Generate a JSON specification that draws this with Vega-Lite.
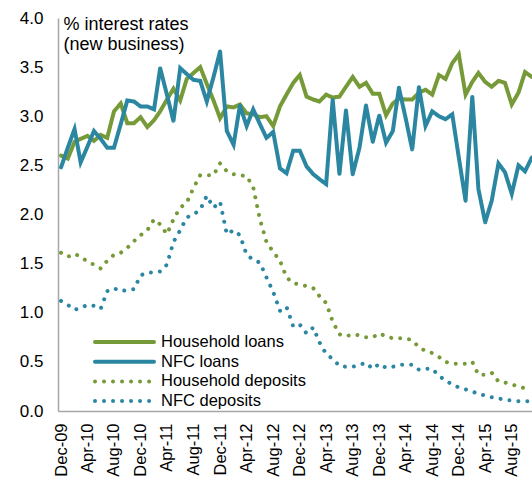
{
  "$schema": "https://vega.github.io/schema/vega-lite/v6.json",
  "width": 474,
  "height": 393,
  "autosize": {"type": "none"},
  "padding": {"left": 58, "top": 18, "right": 0, "bottom": 73},
  "background": "white",
  "config": {"font": "Liberation Sans", "view": {"stroke": null}},
  "data": {"values": [
    {"d": "2009-12-01", "Household loans": 2.60, "NFC loans": 2.48, "Household deposits": 1.61, "NFC deposits": 1.12},
    {"d": "2010-01-01", "Household loans": 2.57, "NFC loans": 2.68, "Household deposits": 1.57, "NFC deposits": 1.08},
    {"d": "2010-02-01", "Household loans": 2.74, "NFC loans": 2.87, "Household deposits": 1.60, "NFC deposits": 1.03},
    {"d": "2010-03-01", "Household loans": 2.77, "NFC loans": 2.53, "Household deposits": 1.57, "NFC deposits": 1.05},
    {"d": "2010-04-01", "Household loans": 2.80, "NFC loans": 2.69, "Household deposits": 1.52, "NFC deposits": 1.08},
    {"d": "2010-05-01", "Household loans": 2.75, "NFC loans": 2.85, "Household deposits": 1.49, "NFC deposits": 1.07},
    {"d": "2010-06-01", "Household loans": 2.81, "NFC loans": 2.77, "Household deposits": 1.45, "NFC deposits": 1.04},
    {"d": "2010-07-01", "Household loans": 2.78, "NFC loans": 2.68, "Household deposits": 1.53, "NFC deposits": 1.22},
    {"d": "2010-08-01", "Household loans": 3.05, "NFC loans": 2.68, "Household deposits": 1.59, "NFC deposits": 1.25},
    {"d": "2010-09-01", "Household loans": 3.13, "NFC loans": 2.92, "Household deposits": 1.61, "NFC deposits": 1.22},
    {"d": "2010-10-01", "Household loans": 2.93, "NFC loans": 3.16, "Household deposits": 1.66, "NFC deposits": 1.23},
    {"d": "2010-11-01", "Household loans": 2.93, "NFC loans": 3.15, "Household deposits": 1.73, "NFC deposits": 1.24},
    {"d": "2010-12-01", "Household loans": 2.99, "NFC loans": 3.10, "Household deposits": 1.79, "NFC deposits": 1.38},
    {"d": "2011-01-01", "Household loans": 2.89, "NFC loans": 3.10, "Household deposits": 1.84, "NFC deposits": 1.41},
    {"d": "2011-02-01", "Household loans": 2.96, "NFC loans": 3.07, "Household deposits": 1.95, "NFC deposits": 1.41},
    {"d": "2011-03-01", "Household loans": 3.05, "NFC loans": 3.49, "Household deposits": 1.90, "NFC deposits": 1.42},
    {"d": "2011-04-01", "Household loans": 3.17, "NFC loans": 3.22, "Household deposits": 1.80, "NFC deposits": 1.49},
    {"d": "2011-05-01", "Household loans": 3.28, "NFC loans": 2.95, "Household deposits": 1.95, "NFC deposits": 1.72},
    {"d": "2011-06-01", "Household loans": 3.16, "NFC loans": 3.49, "Household deposits": 2.07, "NFC deposits": 1.84},
    {"d": "2011-07-01", "Household loans": 3.38, "NFC loans": 3.43, "Household deposits": 2.12, "NFC deposits": 1.97},
    {"d": "2011-08-01", "Household loans": 3.44, "NFC loans": 3.37, "Household deposits": 2.27, "NFC deposits": 2.00},
    {"d": "2011-09-01", "Household loans": 3.50, "NFC loans": 3.36, "Household deposits": 2.40, "NFC deposits": 2.05},
    {"d": "2011-10-01", "Household loans": 3.33, "NFC loans": 3.15, "Household deposits": 2.40, "NFC deposits": 2.19},
    {"d": "2011-11-01", "Household loans": 3.16, "NFC loans": 3.40, "Household deposits": 2.40, "NFC deposits": 2.07},
    {"d": "2011-12-01", "Household loans": 2.98, "NFC loans": 3.66, "Household deposits": 2.52, "NFC deposits": 2.13},
    {"d": "2012-01-01", "Household loans": 3.10, "NFC loans": 2.85, "Household deposits": 2.44, "NFC deposits": 1.80},
    {"d": "2012-02-01", "Household loans": 3.09, "NFC loans": 2.71, "Household deposits": 2.41, "NFC deposits": 1.84},
    {"d": "2012-03-01", "Household loans": 3.12, "NFC loans": 3.11, "Household deposits": 2.40, "NFC deposits": 1.79},
    {"d": "2012-04-01", "Household loans": 3.03, "NFC loans": 2.90, "Household deposits": 2.39, "NFC deposits": 1.59},
    {"d": "2012-05-01", "Household loans": 3.02, "NFC loans": 3.07, "Household deposits": 2.28, "NFC deposits": 1.54},
    {"d": "2012-06-01", "Household loans": 2.99, "NFC loans": 2.92, "Household deposits": 1.95, "NFC deposits": 1.51},
    {"d": "2012-07-01", "Household loans": 3.00, "NFC loans": 2.78, "Household deposits": 1.72, "NFC deposits": 1.36},
    {"d": "2012-08-01", "Household loans": 2.90, "NFC loans": 2.84, "Household deposits": 1.62, "NFC deposits": 1.21},
    {"d": "2012-09-01", "Household loans": 3.10, "NFC loans": 2.47, "Household deposits": 1.53, "NFC deposits": 1.02},
    {"d": "2012-10-01", "Household loans": 3.22, "NFC loans": 2.42, "Household deposits": 1.36, "NFC deposits": 1.06},
    {"d": "2012-11-01", "Household loans": 3.34, "NFC loans": 2.65, "Household deposits": 1.30, "NFC deposits": 0.86},
    {"d": "2012-12-01", "Household loans": 3.42, "NFC loans": 2.65, "Household deposits": 1.29, "NFC deposits": 0.88},
    {"d": "2013-01-01", "Household loans": 3.20, "NFC loans": 2.49, "Household deposits": 1.27, "NFC deposits": 0.79},
    {"d": "2013-02-01", "Household loans": 3.17, "NFC loans": 2.41, "Household deposits": 1.25, "NFC deposits": 0.85},
    {"d": "2013-03-01", "Household loans": 3.15, "NFC loans": 2.36, "Household deposits": 1.17, "NFC deposits": 0.70},
    {"d": "2013-04-01", "Household loans": 3.22, "NFC loans": 2.31, "Household deposits": 1.10, "NFC deposits": 0.58},
    {"d": "2013-05-01", "Household loans": 3.19, "NFC loans": 3.17, "Household deposits": 0.91, "NFC deposits": 0.53},
    {"d": "2013-06-01", "Household loans": 3.20, "NFC loans": 2.41, "Household deposits": 0.78, "NFC deposits": 0.46},
    {"d": "2013-07-01", "Household loans": 3.30, "NFC loans": 3.06, "Household deposits": 0.76, "NFC deposits": 0.45},
    {"d": "2013-08-01", "Household loans": 3.40, "NFC loans": 2.41, "Household deposits": 0.78, "NFC deposits": 0.45},
    {"d": "2013-09-01", "Household loans": 3.30, "NFC loans": 2.68, "Household deposits": 0.77, "NFC deposits": 0.47},
    {"d": "2013-10-01", "Household loans": 3.34, "NFC loans": 3.11, "Household deposits": 0.75, "NFC deposits": 0.49},
    {"d": "2013-11-01", "Household loans": 3.23, "NFC loans": 2.74, "Household deposits": 0.75, "NFC deposits": 0.43},
    {"d": "2013-12-01", "Household loans": 3.23, "NFC loans": 3.01, "Household deposits": 0.79, "NFC deposits": 0.48},
    {"d": "2014-01-01", "Household loans": 3.01, "NFC loans": 2.73, "Household deposits": 0.76, "NFC deposits": 0.44},
    {"d": "2014-02-01", "Household loans": 3.13, "NFC loans": 2.85, "Household deposits": 0.74, "NFC deposits": 0.45},
    {"d": "2014-03-01", "Household loans": 3.18, "NFC loans": 3.29, "Household deposits": 0.74, "NFC deposits": 0.47},
    {"d": "2014-04-01", "Household loans": 3.17, "NFC loans": 2.98, "Household deposits": 0.74, "NFC deposits": 0.47},
    {"d": "2014-05-01", "Household loans": 3.17, "NFC loans": 2.66, "Household deposits": 0.72, "NFC deposits": 0.47},
    {"d": "2014-06-01", "Household loans": 3.24, "NFC loans": 3.30, "Household deposits": 0.65, "NFC deposits": 0.42},
    {"d": "2014-07-01", "Household loans": 3.27, "NFC loans": 2.90, "Household deposits": 0.61, "NFC deposits": 0.43},
    {"d": "2014-08-01", "Household loans": 3.22, "NFC loans": 3.05, "Household deposits": 0.59, "NFC deposits": 0.43},
    {"d": "2014-09-01", "Household loans": 3.42, "NFC loans": 3.00, "Household deposits": 0.55, "NFC deposits": 0.36},
    {"d": "2014-10-01", "Household loans": 3.38, "NFC loans": 2.97, "Household deposits": 0.50, "NFC deposits": 0.31},
    {"d": "2014-11-01", "Household loans": 3.54, "NFC loans": 3.02, "Household deposits": 0.48, "NFC deposits": 0.27},
    {"d": "2014-12-01", "Household loans": 3.63, "NFC loans": 2.58, "Household deposits": 0.48, "NFC deposits": 0.24},
    {"d": "2015-01-01", "Household loans": 3.22, "NFC loans": 2.14, "Household deposits": 0.48, "NFC deposits": 0.22},
    {"d": "2015-02-01", "Household loans": 3.35, "NFC loans": 3.20, "Household deposits": 0.50, "NFC deposits": 0.20},
    {"d": "2015-03-01", "Household loans": 3.44, "NFC loans": 2.26, "Household deposits": 0.37, "NFC deposits": 0.17},
    {"d": "2015-04-01", "Household loans": 3.35, "NFC loans": 1.92, "Household deposits": 0.37, "NFC deposits": 0.16},
    {"d": "2015-05-01", "Household loans": 3.30, "NFC loans": 2.14, "Household deposits": 0.39, "NFC deposits": 0.14},
    {"d": "2015-06-01", "Household loans": 3.36, "NFC loans": 2.52, "Household deposits": 0.30, "NFC deposits": 0.13},
    {"d": "2015-07-01", "Household loans": 3.34, "NFC loans": 2.43, "Household deposits": 0.29, "NFC deposits": 0.11},
    {"d": "2015-08-01", "Household loans": 3.12, "NFC loans": 2.21, "Household deposits": 0.27, "NFC deposits": 0.11},
    {"d": "2015-09-01", "Household loans": 3.24, "NFC loans": 2.50, "Household deposits": 0.25, "NFC deposits": 0.10},
    {"d": "2015-10-01", "Household loans": 3.45, "NFC loans": 2.44, "Household deposits": 0.23, "NFC deposits": 0.10},
    {"d": "2015-11-01", "Household loans": 3.40, "NFC loans": 2.58, "Household deposits": 0.22, "NFC deposits": 0.10}
  ]},
  "transform": [
    {"fold": ["Household loans", "NFC loans", "Household deposits", "NFC deposits"], "as": ["series", "value"]}
  ],
  "mark": {"type": "line", "strokeWidth": 4, "strokeCap": "round"},
  "encoding": {
    "x": {
      "field": "d", "type": "temporal",
      "scale": {"domain": [{"year": 2009, "month": 11, "date": 17}, {"year": 2015, "month": 11, "date": 2}]},
      "axis": {
        "values": [
          {"year": 2009, "month": 12, "date": 1}, {"year": 2010, "month": 4, "date": 1}, {"year": 2010, "month": 8, "date": 1},
          {"year": 2010, "month": 12, "date": 1}, {"year": 2011, "month": 4, "date": 1}, {"year": 2011, "month": 8, "date": 1},
          {"year": 2011, "month": 12, "date": 1}, {"year": 2012, "month": 4, "date": 1}, {"year": 2012, "month": 8, "date": 1},
          {"year": 2012, "month": 12, "date": 1}, {"year": 2013, "month": 4, "date": 1}, {"year": 2013, "month": 8, "date": 1},
          {"year": 2013, "month": 12, "date": 1}, {"year": 2014, "month": 4, "date": 1}, {"year": 2014, "month": 8, "date": 1},
          {"year": 2014, "month": 12, "date": 1}, {"year": 2015, "month": 4, "date": 1}, {"year": 2015, "month": 8, "date": 1}
        ],
        "format": "%b-%y",
        "labelAngle": 270,
        "title": null,
        "grid": false,
        "ticks": false,
        "tickSize": 0,
        "labelPadding": 12,
        "labelFontSize": 16.5,
        "labelColor": "#000000",
        "labelFlush": false,
        "labelOverlap": false,
        "labelBound": false,
        "domainColor": "#a6a6a6",
        "domainWidth": 1.5
      }
    },
    "y": {
      "field": "value", "type": "quantitative",
      "scale": {"domain": [0, 4], "nice": false, "zero": true},
      "axis": {
        "values": [0, 0.5, 1, 1.5, 2, 2.5, 3, 3.5, 4],
        "format": ".1f",
        "grid": false,
        "ticks": false,
        "tickSize": 0,
        "labelPadding": 15,
        "labelFontSize": 17,
        "labelColor": "#000000",
        "labelFlush": false,
        "labelOverlap": false,
        "domainColor": "#a6a6a6",
        "domainWidth": 1.5,
        "title": ["% interest rates", "(new business)"],
        "titleAngle": 0,
        "titleAlign": "left",
        "titleBaseline": "top",
        "titleX": 5,
        "titleY": -3,
        "titleFontSize": 18,
        "titleFontWeight": "normal",
        "titleColor": "#000000",
        "titleLineHeight": 20
      }
    },
    "color": {
      "field": "series", "type": "nominal",
      "scale": {"domain": ["Household loans", "NFC loans", "Household deposits", "NFC deposits"], "range": ["#779a38", "#2b87a1", "#779a38", "#2b87a1"]},
      "legend": {
        "title": null, "orient": "none", "legendX": 35, "legendY": 316, "padding": 0,
        "symbolType": "stroke", "symbolSize": 3481, "symbolStrokeWidth": 4,
        "labelFontSize": 16.5, "labelColor": "#000000", "labelOffset": 5, "labelLimit": 300,
        "clipHeight": 16, "rowPadding": 2.7,
        "encode": {"symbols": {"update": {"strokeCap": {"value": "round"}}}}
      }
    },
    "strokeDash": {
      "field": "series", "type": "nominal",
      "scale": {"domain": ["Household loans", "NFC loans", "Household deposits", "NFC deposits"], "range": [[1, 0], [1, 0], [0.01, 9], [0.01, 9]]},
      "legend": {
        "title": null, "orient": "none", "legendX": 35, "legendY": 316, "padding": 0,
        "symbolType": "stroke", "symbolSize": 3481, "symbolStrokeWidth": 4,
        "labelFontSize": 16.5, "labelColor": "#000000", "labelOffset": 5, "labelLimit": 300,
        "clipHeight": 16, "rowPadding": 2.7,
        "encode": {"symbols": {"update": {"strokeCap": {"value": "round"}}}}
      }
    }
  }
}
